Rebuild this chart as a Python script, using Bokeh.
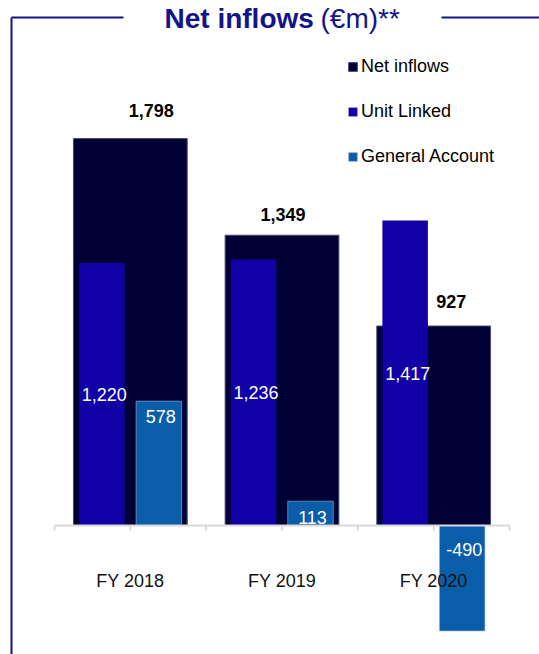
import numpy as np
from bokeh.plotting import figure
from bokeh.models import ColumnDataSource, Range1d, Legend, LegendItem, Label, Arrow
from bokeh.core.properties import value
from bokeh.embed import file_html
from bokeh.resources import INLINE

# ---------------- data ----------------
categories = ["FY 2018", "FY 2019", "FY 2020"]
net_inflows = [1798, 1349, 927]
unit_linked = [1220, 1236, 1417]
general_account = [578, 113, -490]
series_names = ["Net inflows", "Unit Linked", "General Account"]
title_bold = "Net inflows"
title_rest = "(€m)**"

# ---------------- styles / layout ----------------
W, H = 539, 654
FONT = "Liberation Sans"
NET_C, UL_C, GA_C = "#000035", "#1000A6", "#0A5DA8"
NAVY = "#14148A"
PX_PER_CAT = 455 / 3      # pixels per category
X0 = 54                   # px of the category axis start
BASE_Y = 525              # px (from top) of the zero line
K = 0.2152                # px per EUR m
NET_W, SUB_W, SUB_OFF = 0.75, 0.30, 0.188

net_dx = [21, 1, 17.5]
net_dy = [-28, -21, -24.5]
ga_dy = [15, 16, 23.5]

x_range = Range1d(-X0 / PX_PER_CAT, (W - X0) / PX_PER_CAT)
y_range = Range1d(-(H - BASE_Y) / K, BASE_Y / K)

p = figure(width=W, height=H, x_range=x_range, y_range=y_range,
           output_backend="svg", toolbar_location=None,
           x_axis_location=None, y_axis_location=None, min_border=0,
           outline_line_color=None, background_fill_color="white",
           border_fill_color="white")
p.grid.visible = False

xc = np.arange(len(categories)) + 0.5
src = ColumnDataSource(dict(
    x=xc, x_ul=xc - SUB_OFF, x_ga=xc + SUB_OFF, cat=categories,
    net=net_inflows, ul=unit_linked, ga=general_account,
    ul_mid=[v / 2 for v in unit_linked],
    ga_top=[max(v, 0) for v in general_account],
    net_lbl=[f"{v:,}" for v in net_inflows],
    ul_lbl=[f"{v:,}" for v in unit_linked],
    ga_lbl=[f"{v:,}" for v in general_account],
    net_dx=net_dx, net_dy=net_dy, ga_dy=ga_dy,
))

r_net = p.vbar(x="x", top="net", bottom=0, width=NET_W, source=src,
               fill_color=NET_C, line_color="#4a4a78", line_width=1)
r_ul = p.vbar(x="x_ul", top="ul", bottom=0, width=SUB_W, source=src,
              fill_color=UL_C, line_color=None)
r_ga = p.vbar(x="x_ga", top="ga", bottom=0, width=SUB_W, source=src,
              fill_color=GA_C, line_color="#9db7d8", line_width=0.6)

# category axis at zero
ticks = np.arange(0, len(categories) + 0.25, 0.5)
p.segment(x0=0, y0=0, x1=len(categories), y1=0, line_color="#d9d9d9", line_width=2)
p.segment(x0=ticks, y0=[0] * len(ticks), x1=ticks, y1=[-5 / K] * len(ticks),
          line_color="#d9d9d9", line_width=2)

# labels
p.text(x="x", y="net", text="net_lbl", source=src, x_offset="net_dx", y_offset="net_dy",
       text_font=value(FONT), text_font_style="bold", text_font_size="18px",
       text_align="center", text_baseline="middle", text_color="black")
p.text(x="x_ul", y="ul_mid", text="ul_lbl", source=src, x_offset=2.5,
       text_font=value(FONT), text_font_size="18px", text_align="center",
       text_baseline="middle", text_color="white")
p.text(x="x_ga", y="ga_top", text="ga_lbl", source=src, x_offset=2, y_offset="ga_dy",
       text_font=value(FONT), text_font_size="18px", text_align="center",
       text_baseline="middle", text_color="white")
p.text(x="x", y=0, text="cat", source=src, y_offset=55,
       text_font=value(FONT), text_font_size="18px", text_align="center",
       text_baseline="middle", text_color="#111111")

# legend
legend = Legend(items=[LegendItem(label=n, renderers=[r])
                       for n, r in zip(series_names, [r_net, r_ul, r_ga])],
                location=(347, H - 167), orientation="vertical",
                glyph_width=11, glyph_height=11, label_standoff=3,
                spacing=24, label_height=21, padding=0, margin=0,
                border_line_color=None, background_fill_alpha=0,
                label_text_font=FONT, label_text_font_size="18px",
                label_text_color="black")
p.add_layout(legend)

# title
p.add_layout(Label(x=164, y=H - 18, x_units="screen", y_units="screen", text=title_bold,
                   text_font=FONT, text_font_style="bold", text_font_size="28px",
                   text_color=NAVY, text_baseline="middle"))
p.add_layout(Label(x=320, y=H - 18, x_units="screen", y_units="screen", text=title_rest,
                   text_font=FONT, text_font_size="28px",
                   text_color=NAVY, text_baseline="middle"))

# frame lines
for xs, ys, xe, ye in [(11, H - 17, 123, H - 17), (441, H - 17, W, H - 17), (11, H - 17, 11, 0)]:
    p.add_layout(Arrow(start=None, end=None, x_start=xs, y_start=ys, x_end=xe, y_end=ye,
                       start_units="screen", end_units="screen",
                       line_color=NAVY, line_width=2))

open("out.html", "w").write(file_html(p, INLINE))
